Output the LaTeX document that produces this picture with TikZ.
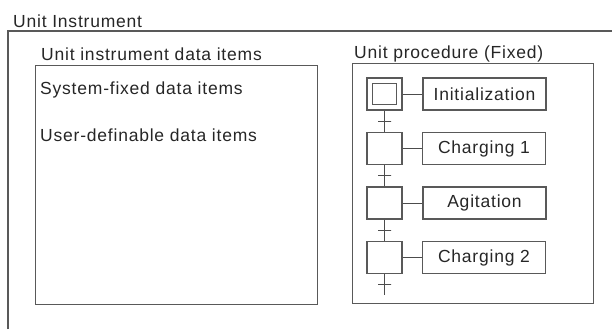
\documentclass[tikz,border=0pt]{standalone}
\usepackage{fontspec}
\setmainfont[LetterSpace=4.5]{Liberation Sans}
\begin{document}
\begin{tikzpicture}[x=1pt,y=-1pt,
  every node/.style={font=\fontsize{17.5}{20}\selectfont, text=black!85},
  frame/.style={draw=black!65, line width=1.1pt},
  label/.style={anchor=base west, inner sep=0pt},
  stepbox/.style={frame, minimum width=35pt, minimum height=32pt, inner sep=0pt},
  actbox/.style={frame, minimum width=123pt, minimum height=32pt, inner sep=0pt},
  wire/.style={draw=black!70, line width=0.9pt},
  tick/.style={draw=black!70, line width=0.9pt, minimum width=13pt, minimum height=0pt, inner sep=0pt, shape=rectangle}
]
\useasboundingbox (0,0) rectangle (612,329);

% Outer unit instrument frame (open to the right and bottom)
\node[label] (title) at (13,28) {Unit Instrument};
\draw[frame] (8,329) -- (8,31) -- (612,31);

% Data items panel
\node[label] (dtitle) at (41,60) {Unit instrument data items};
\node[frame, minimum width=282pt, minimum height=239pt, anchor=north west, inner sep=0pt] (dbox) at (35,65) {};
\node[label] (sysitems) at (40,94) {System-fixed data items};
\node[label] (useritems) at (40,141) {User-definable data items};

% Procedure panel
\node[label] (ptitle) at (354,59) {Unit procedure (Fixed)};
\node[frame, minimum width=241pt, minimum height=240pt, anchor=north west, inner sep=0pt] (pbox) at (352,63) {};

% Steps (the first one is the initial step, drawn doubled)
\node[stepbox] (s1) at (384.5,94) {};
\node[frame, minimum width=24pt, minimum height=21pt, inner sep=0pt] (s1in) at (s1.center) {};
\node[stepbox] (s2) at (384.5,148.5) {};
\node[stepbox] (s3) at (384.5,203) {};
\node[stepbox] (s4) at (384.5,257.5) {};
\coordinate (send) at (384.5,295);

% Actions
\node[actbox] (a1) at (484.5,94) {Initialization};
\node[actbox] (a2) at (484,148.5) {Charging 1};
\node[actbox] (a3) at (484.5,203) {Agitation};
\node[actbox] (a4) at (484,257.5) {Charging 2};

% Step-to-action links
\foreach \i in {1,2,3,4} \draw[wire] (s\i.east) -- (a\i.west);

% Transitions between steps
\draw[wire] (s1.south) -- node[tick]{} (s2.north);
\draw[wire] (s2.south) -- node[tick]{} (s3.north);
\draw[wire] (s3.south) -- node[tick]{} (s4.north);
\draw[wire] (s4.south) -- node[tick]{} (send);
\end{tikzpicture}
\end{document}
